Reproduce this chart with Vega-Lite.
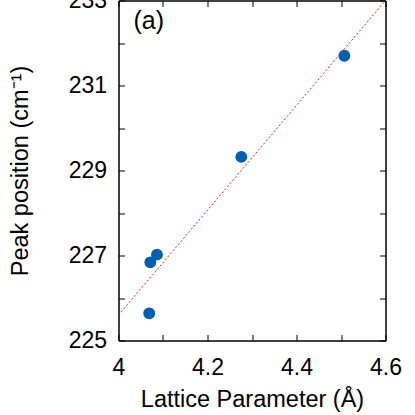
{
  "$schema": "https://vega.github.io/schema/vega-lite/v6.json",
  "autosize": "none",
  "width": 267,
  "height": 340,
  "padding": {"left": 118.5, "top": 0.5, "right": 29.5, "bottom": 74.5},
  "background": "white",
  "config": {
    "view": {"stroke": "black", "strokeWidth": 1},
    "font": "Liberation Sans",
    "axis": {
      "grid": false,
      "domainColor": "black",
      "tickColor": "black",
      "labelColor": "black",
      "titleColor": "black",
      "labelFont": "Liberation Sans",
      "titleFont": "Liberation Sans",
      "labelFontSize": 23,
      "titleFontSize": 23.5,
      "titleFontWeight": "normal",
      "tickSize": -6
    }
  },
  "datasets": {
    "pts": [
      {"a": 4.069, "peak": 225.64},
      {"a": 4.0715, "peak": 226.84},
      {"a": 4.0865, "peak": 227.02},
      {"a": 4.276, "peak": 229.32},
      {"a": 4.5075, "peak": 231.7}
    ],
    "fit": [
      {"a": 4.0, "peak": 225.6},
      {"a": 4.6, "peak": 233.0}
    ],
    "lab": [{"a": 4.068, "peak": 232.52, "t": "(a)"}]
  },
  "resolve": {"axis": {"x": "independent", "y": "independent"}},
  "layer": [
    {
      "data": {"name": "pts"},
      "mark": {"type": "circle", "size": 140, "color": "#0060ad", "opacity": 1},
      "encoding": {
        "x": {
          "field": "a", "type": "quantitative",
          "scale": {"domain": [4, 4.6], "nice": false, "zero": false},
          "axis": {
            "orient": "bottom",
            "title": "Lattice Parameter (Å)",
            "values": [4, 4.1, 4.2, 4.3, 4.4, 4.5, 4.6],
            "labelExpr": "abs(round(datum.value*10)%2)==0 ? (datum.value==4 ? '4' : format(datum.value, '.1f')) : ''",
            "labelPadding": 40,
            "labelBaseline": "alphabetic",
            "titlePadding": 8,
            "labelFlush": false,
            "labelOverlap": false
          }
        },
        "y": {
          "field": "peak", "type": "quantitative",
          "scale": {"domain": [225, 233], "nice": false, "zero": false},
          "axis": {
            "orient": "left",
            "title": "Peak position (cm⁻¹)",
            "values": [225, 226, 227, 228, 229, 230, 231, 232, 233],
            "labelExpr": "datum.value % 2 == 1 ? datum.value + '' : ''",
            "labelPadding": 18,
            "titlePadding": 36,
            "labelOverlap": false,
            "labelFlush": false
          }
        }
      }
    },
    {
      "data": {"name": "fit"},
      "mark": {"type": "line", "color": "#ee2222", "strokeWidth": 1, "strokeDash": [2, 2], "clip": true},
      "encoding": {
        "x": {
          "field": "a", "type": "quantitative",
          "axis": {
            "orient": "top", "title": null, "labels": false,
            "values": [4, 4.1, 4.2, 4.3, 4.4, 4.5, 4.6]
          }
        },
        "y": {
          "field": "peak", "type": "quantitative",
          "axis": {
            "orient": "right", "title": null, "labels": false,
            "values": [225, 226, 227, 228, 229, 230, 231, 232, 233]
          }
        }
      }
    },
    {
      "data": {"name": "lab"},
      "mark": {"type": "text", "fontSize": 25, "font": "Liberation Sans", "align": "center", "baseline": "middle", "color": "black"},
      "encoding": {
        "x": {"field": "a", "type": "quantitative", "axis": null},
        "y": {"field": "peak", "type": "quantitative", "axis": null},
        "text": {"field": "t"}
      }
    }
  ]
}
